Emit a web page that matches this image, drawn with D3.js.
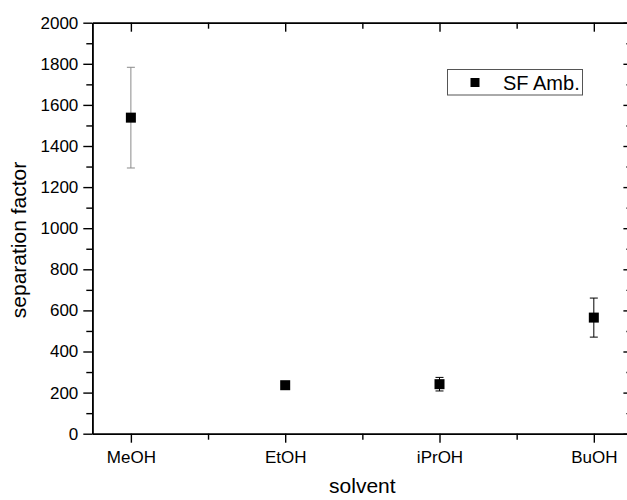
<!DOCTYPE html>
<html>
<head>
<meta charset="utf-8">
<script src="https://cdn.jsdelivr.net/npm/d3@7"></script>
<style>
  body { margin: 0; background: #fff; }
  text { font-family: "Liberation Sans", Arial, sans-serif; }
</style>
</head>
<body>
<script>
// separation factor per solvent, with error bars
var solvents = ["MeOH", "EtOH", "iPrOH", "BuOH"];
var sfAmb = [1538, 236, 241, 565];
var sfErr = [245, 14, 33, 95];
var errColors = ["#8a8a8a", "#000", "#000", "#000"];
var yMajor = [0, 200, 400, 600, 800, 1000, 1200, 1400, 1600, 1800, 2000];
var yMinor = [100, 300, 500, 700, 900, 1100, 1300, 1500, 1700, 1900];
var xMinor = [1.5, 2.5, 3.5];

var width = 627;
var height = 500;

var svg = d3.select("body").append("svg")
    .attr("width", width)
    .attr("height", height);

var x = d3.scaleLinear().domain([0.75, 4.25]).range([92.3, 632.4]);
var y = d3.scaleLinear().domain([0, 2000]).range([433.7, 22.7]);

var data = solvents.map(function(s, i) {
  return {name: s, x: i + 1, v: sfAmb[i], e: sfErr[i], c: errColors[i]};
});

function styleAxis(g) {
  g.select(".domain").attr("stroke", "#000").attr("stroke-width", 1.6);
  g.selectAll(".tick line").attr("stroke", "#000").attr("stroke-width", 1.4);
  g.selectAll(".tick text").attr("fill", "#000")
    .style("font-size", "17px").style("font-family", "'Liberation Sans', Arial, sans-serif");
}

// left axis
svg.append("g")
    .attr("transform", "translate(" + x.range()[0] + ",0)")
    .call(d3.axisLeft(y).tickValues(yMinor).tickSize(6).tickSizeOuter(0).tickFormat(""))
    .call(styleAxis);
svg.append("g")
    .attr("transform", "translate(" + x.range()[0] + ",0)")
    .call(d3.axisLeft(y).tickValues(yMajor).tickSize(9).tickSizeOuter(0).tickPadding(5)
      .tickFormat(d3.format("d")))
    .call(styleAxis);

// right axis (ticks inward)
svg.append("g")
    .attr("transform", "translate(" + x.range()[1] + ",0)")
    .call(d3.axisRight(y).tickValues(yMinor).tickSize(-6).tickSizeOuter(0).tickFormat(""))
    .call(styleAxis);
svg.append("g")
    .attr("transform", "translate(" + x.range()[1] + ",0)")
    .call(d3.axisRight(y).tickValues(yMajor).tickSize(-9).tickSizeOuter(0).tickFormat(""))
    .call(styleAxis);

// bottom axis
svg.append("g")
    .attr("transform", "translate(0," + y(0) + ")")
    .call(d3.axisBottom(x).tickValues(xMinor).tickSize(6).tickSizeOuter(0).tickFormat(""))
    .call(styleAxis);
svg.append("g")
    .attr("transform", "translate(0," + y(0) + ")")
    .call(d3.axisBottom(x).tickValues([1, 2, 3, 4]).tickSize(9).tickSizeOuter(0).tickPadding(8)
      .tickFormat(function(d) { return solvents[d - 1]; }))
    .call(styleAxis);

// top axis (ticks inward)
svg.append("g")
    .attr("transform", "translate(0," + y(2000) + ")")
    .call(d3.axisTop(x).tickValues(xMinor).tickSize(-6).tickSizeOuter(0).tickFormat(""))
    .call(styleAxis);
svg.append("g")
    .attr("transform", "translate(0," + y(2000) + ")")
    .call(d3.axisTop(x).tickValues([1, 2, 3, 4]).tickSize(-9).tickSizeOuter(0).tickFormat(""))
    .call(styleAxis);

// error bars
var eb = svg.append("g").selectAll("g")
    .data(data)
    .enter().append("g")
    .attr("stroke", function(d) { return d.c; })
    .attr("stroke-width", 1);
eb.append("line")
    .attr("x1", function(d) { return x(d.x); })
    .attr("x2", function(d) { return x(d.x); })
    .attr("y1", function(d) { return y(d.v + d.e); })
    .attr("y2", function(d) { return y(d.v - d.e); });
eb.append("line")
    .attr("x1", function(d) { return x(d.x) - 4; })
    .attr("x2", function(d) { return x(d.x) + 4; })
    .attr("y1", function(d) { return y(d.v + d.e); })
    .attr("y2", function(d) { return y(d.v + d.e); });
eb.append("line")
    .attr("x1", function(d) { return x(d.x) - 4; })
    .attr("x2", function(d) { return x(d.x) + 4; })
    .attr("y1", function(d) { return y(d.v - d.e); })
    .attr("y2", function(d) { return y(d.v - d.e); });

// markers
var ms = 10;
svg.append("g").selectAll("rect")
    .data(data)
    .enter().append("rect")
    .attr("x", function(d) { return x(d.x) - ms / 2; })
    .attr("y", function(d) { return y(d.v) - ms / 2; })
    .attr("width", ms)
    .attr("height", ms)
    .attr("fill", "#000");

// axis titles
svg.append("text")
    .attr("x", (x.range()[0] + x.range()[1]) / 2)
    .attr("y", 493)
    .attr("text-anchor", "middle")
    .style("font-size", "21px")
    .text("solvent");
svg.append("text")
    .attr("transform", "translate(26," + 240 + ") rotate(-90)")
    .attr("text-anchor", "middle")
    .style("font-size", "21px")
    .text("separation factor");

// legend
var lg = svg.append("g");
lg.append("rect")
    .attr("x", 447.5).attr("y", 69.5)
    .attr("width", 135).attr("height", 25.5)
    .attr("fill", "#fff")
    .attr("stroke", "#555")
    .attr("stroke-width", 1);
lg.append("rect")
    .attr("x", 475 - 4.5).attr("y", 82.5 - 4.5)
    .attr("width", 9).attr("height", 9)
    .attr("fill", "#000");
lg.append("text")
    .attr("x", 503).attr("y", 89.5)
    .style("font-size", "20px")
    .text("SF Amb.");
</script>
</body>
</html>
